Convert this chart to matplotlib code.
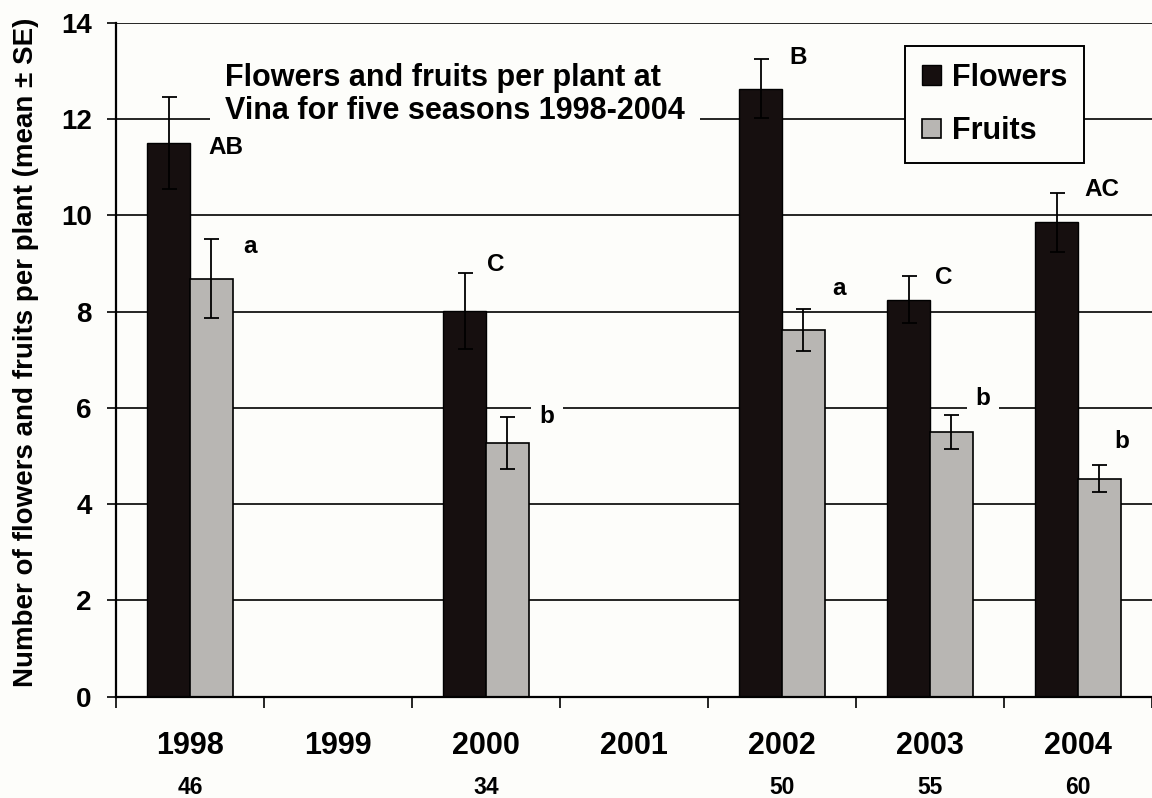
import numpy as np
import matplotlib
matplotlib.use("Agg")
import matplotlib.pyplot as plt
from matplotlib.patches import Patch
from matplotlib import transforms

# ---------------- data ----------------
years = ["1998", "1999", "2000", "2001", "2002", "2003", "2004"]
n_plants = ["46", "", "34", "", "50", "55", "60"]
flowers_mean = [11.50, np.nan, 8.02, np.nan, 12.63, 8.25, 9.85]
flowers_se = [0.96, np.nan, 0.79, np.nan, 0.61, 0.48, 0.62]
fruits_mean = [8.68, np.nan, 5.27, np.nan, 7.62, 5.50, 4.53]
fruits_se = [0.82, np.nan, 0.54, np.nan, 0.44, 0.36, 0.28]
flower_letters = ["AB", "", "C", "", "B", "C", "AC"]
fruit_letters = ["a", "", "b", "", "a", "b", "b"]
title_text = "Flowers and fruits per plant at\nVina for five seasons 1998-2004"
ylabel = "Number of flowers and fruits per plant (mean \u00b1 SE)"

# ---------------- layout (positions of letter annotations, data coords) ----------------
flower_letter_pos = [(0.243, 11.28), None, (2.064, 8.85), None, (4.108, 13.15), (5.091, 8.58), (6.162, 10.41)]
fruit_letter_pos = [(0.405, 9.22), None, (2.412, 5.69), None, (4.382, 8.35), (5.358, 6.06), (6.297, 5.17)]

plt.rcParams['font.family'] = ['Liberation Sans', 'DejaVu Sans']
plt.rcParams['font.weight'] = 'bold'

W, H = 1152, 798
fig = plt.figure(figsize=(W / 100, H / 100), dpi=100)
bg = '#fdfdfa'
fig.patch.set_facecolor(bg)

ax_left, ax_right, ax_top, ax_bottom = 116, 1152, 22.7, 696.7
ax = fig.add_axes([ax_left / W, 1 - ax_bottom / H, (ax_right - ax_left) / W, (ax_bottom - ax_top) / H])
ax.set_facecolor(bg)

x = np.arange(len(years))
bw = 0.29
flower_color = '#160f0f'
fruit_color = '#b8b6b3'

ax.bar(x - bw / 2, flowers_mean, width=bw, color=flower_color, edgecolor='black', linewidth=1.0, zorder=3)
ax.bar(x + bw / 2, fruits_mean, width=bw, color=fruit_color, edgecolor='black', linewidth=1.2, zorder=3)
ax.errorbar(x - bw / 2, flowers_mean, yerr=flowers_se, fmt='none', ecolor='black',
            elinewidth=1.3, capsize=5.4, capthick=1.3, zorder=4)
ax.errorbar(x + bw / 2, fruits_mean, yerr=fruits_se, fmt='none', ecolor='black',
            elinewidth=1.3, capsize=5.4, capthick=1.3, zorder=4)

ax.set_xlim(-0.5, len(years) - 0.5)
ax.set_ylim(0, 14)

# gridlines
for yv in range(2, 15, 2):
    ax.axhline(yv, color='black', linewidth=1.2, zorder=1)

# spines
for s in ['top', 'right']:
    ax.spines[s].set_visible(False)
ax.spines['left'].set_linewidth(1.6)
ax.spines['bottom'].set_linewidth(1.6)
ax.spines['left'].set_zorder(5)
ax.spines['bottom'].set_zorder(5)

# y ticks
ax.set_yticks(range(0, 15, 2))
ax.tick_params(axis='y', direction='out', length=6.5, width=1.2, labelsize=20, pad=11)
for lbl in ax.get_yticklabels():
    lbl.set_fontweight('bold')

# x ticks: major (labels) at centres, minor at boundaries
ax.set_xticks(x)
ax.set_xticklabels(years, fontsize=22, fontweight='bold')
ax.tick_params(axis='x', which='major', length=0, pad=25)
ax.set_xticks(np.arange(-0.5, len(years), 1.0), minor=True)
ax.tick_params(axis='x', which='minor', direction='out', length=8, width=1.2)

# sample sizes under years
tr = transforms.blended_transform_factory(ax.transData, fig.transFigure)
for xi, n in zip(x, n_plants):
    if n:
        ax.text(xi, 1 - 794 / H, n, transform=tr, ha='center', va='baseline',
                fontsize=16.5, fontweight='bold', clip_on=False)

ax.set_ylabel(ylabel, fontsize=20, fontweight='bold')
ax.yaxis.set_label_coords((39 - ax_left) / (ax_right - ax_left), (ax_bottom - 352) / (ax_bottom - ax_top))

# letters
for (lab, pos) in zip(flower_letters + fruit_letters, flower_letter_pos + fruit_letter_pos):
    if lab and pos is not None:
        ax.text(pos[0], pos[1], lab, ha='center', va='baseline', fontsize=17.5, fontweight='bold',
                zorder=6, bbox=dict(facecolor=bg, edgecolor='none', pad=6))

# title box
ax.text(0.236, 13.17, title_text, ha='left', va='top', fontsize=22, fontweight='bold',
        linespacing=1.15, zorder=5,
        bbox=dict(facecolor=bg, edgecolor='none', boxstyle='square,pad=0.5'))

# legend
handles = [Patch(facecolor=flower_color, edgecolor='black', linewidth=1.0, label='Flowers'),
           Patch(facecolor=fruit_color, edgecolor='black', linewidth=1.2, label='Fruits')]
leg = ax.legend(handles=handles, loc='upper right', bbox_to_anchor=(1084 / W, 1 - 46 / H),
                bbox_transform=fig.transFigure, fontsize=22, frameon=True, fancybox=False,
                shadow=False, handlelength=0.62, handleheight=0.62, handletextpad=0.36,
                labelspacing=0.77, borderpad=0.55, borderaxespad=0)
leg.get_frame().set_edgecolor('black')
leg.get_frame().set_linewidth(1.4)
leg.get_frame().set_facecolor(bg)
leg.get_frame().set_alpha(1)
leg.set_zorder(7)
for t in leg.get_texts():
    t.set_fontweight('bold')

fig.savefig('out.png', dpi=100, facecolor=fig.get_facecolor())
